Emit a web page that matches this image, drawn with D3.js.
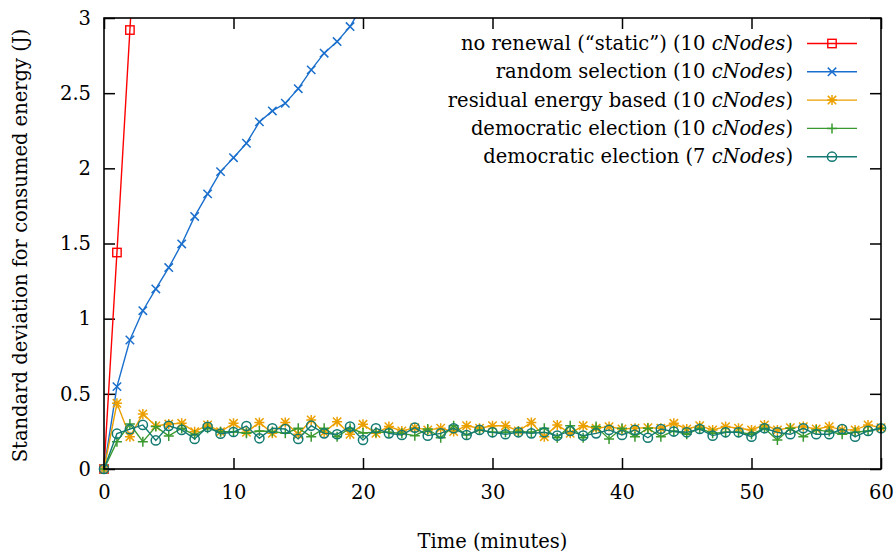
<!DOCTYPE html>
<html><head><meta charset="utf-8">
<script src="https://cdn.jsdelivr.net/npm/d3@7"></script>
<style>body{margin:0;background:#fff}svg{display:block}text{font-family:"DejaVu Serif",serif;fill:#000}</style>
</head><body><svg id="c" width="896" height="558"></svg>
<script>
const minutes = d3.range(0, 61);
const staticVals = [0, 1.44, 2.92, 4.4];
const randomVals = [0, 0.548, 0.858, 1.053, 1.198, 1.34, 1.497, 1.68, 1.83, 1.978, 2.071, 2.167, 2.309, 2.382, 2.433, 2.53, 2.655, 2.766, 2.843, 2.943, 3.09];
const residualVals = [0, 0.437, 0.215, 0.366, 0.286, 0.299, 0.304, 0.248, 0.293, 0.248, 0.304,
  0.244, 0.31, 0.237, 0.31, 0.231, 0.326, 0.244, 0.315, 0.231, 0.297,
  0.237, 0.282, 0.253, 0.275, 0.26, 0.271, 0.249, 0.288, 0.271, 0.288,
  0.288, 0.253, 0.31, 0.215, 0.293, 0.237, 0.288, 0.271, 0.282, 0.266,
  0.271, 0.275, 0.271, 0.304, 0.266, 0.288, 0.26, 0.282, 0.271, 0.26,
  0.293, 0.26, 0.275, 0.282, 0.266, 0.282, 0.26, 0.26, 0.293, 0.275];
const democ10Vals = [0, 0.182, 0.299, 0.182, 0.282, 0.22, 0.271, 0.226, 0.271, 0.248, 0.248,
  0.237, 0.253, 0.249, 0.237, 0.271, 0.215, 0.271, 0.215, 0.271, 0.24,
  0.244, 0.244, 0.237, 0.222, 0.266, 0.208, 0.288, 0.226, 0.26, 0.244,
  0.244, 0.249, 0.244, 0.271, 0.208, 0.288, 0.208, 0.282, 0.2, 0.271,
  0.215, 0.271, 0.215, 0.253, 0.231, 0.271, 0.237, 0.244, 0.244, 0.231,
  0.271, 0.193, 0.271, 0.215, 0.26, 0.249, 0.231, 0.244, 0.253, 0.271];
const democ7Vals = [0, 0.235, 0.265, 0.293, 0.19, 0.287, 0.26, 0.2, 0.28, 0.235, 0.246,
  0.286, 0.204, 0.271, 0.266, 0.2, 0.288, 0.237, 0.231, 0.282, 0.193,
  0.271, 0.237, 0.226, 0.275, 0.222, 0.237, 0.271, 0.226, 0.26, 0.244,
  0.231, 0.244, 0.237, 0.244, 0.222, 0.253, 0.222, 0.237, 0.26, 0.226,
  0.26, 0.208, 0.266, 0.249, 0.244, 0.266, 0.222, 0.244, 0.244, 0.215,
  0.271, 0.244, 0.231, 0.271, 0.231, 0.231, 0.266, 0.215, 0.253, 0.271];
const seriesNames = ["no renewal (\u201cstatic\u201d) (10 ", "random selection (10 ", "residual energy based (10 ", "democratic election (10 ", "democratic election (7 "];
const seriesColors = ["#ff0000", "#1a6fcc", "#eba000", "#3a9a30", "#137a72"];
const seriesMarkers = ["square", "cross", "star", "plus", "circle"];
const xTicks = [0, 10, 20, 30, 40, 50, 60];
const yTicks = [0, 0.5, 1, 1.5, 2, 2.5, 3];
const xTitle = "Time (minutes)";
const yTitle = "Standard deviation for consumed energy (J)";

const allVals = [staticVals, randomVals, residualVals, democ10Vals, democ7Vals];
const svg = d3.select("#c");
const L = 104, R = 881, T = 18, B = 469;
const x = d3.scaleLinear().domain([0, 60]).range([L, R]);
const y = d3.scaleLinear().domain([0, 3]).range([B, T]);
const FS = 19.5;
const FF = "DejaVu Serif";

svg.append("defs").append("clipPath").attr("id", "clip").append("rect")
  .attr("x", L - 6).attr("y", T).attr("width", R - L + 12).attr("height", B - T + 6);

const gx = svg.append("g").attr("transform", `translate(0,${B})`)
  .call(d3.axisBottom(x).tickValues(xTicks).tickSize(-11).tickPadding(16).tickFormat(d3.format("d")));
const gxt = svg.append("g").attr("transform", `translate(0,${T})`)
  .call(d3.axisTop(x).tickValues(xTicks).tickSize(-11).tickFormat(""));
const gy = svg.append("g").attr("transform", `translate(${L},0)`)
  .call(d3.axisLeft(y).tickValues(yTicks).tickSize(-11).tickPadding(13).tickFormat(d => d3.format("")(d)));
const gyr = svg.append("g").attr("transform", `translate(${R},0)`)
  .call(d3.axisRight(y).tickValues(yTicks).tickSize(-11).tickFormat(""));
[gx, gxt, gy, gyr].forEach(g => {
  g.select(".domain").remove();
  g.selectAll(".tick line").attr("stroke", "#000").attr("stroke-width", 1.5);
  g.selectAll(".tick text").attr("font-size", FS).attr("font-family", FF).attr("fill", "#000");
});
gx.selectAll(".tick text").attr("dy", "0.71em");

function marker(sel, type, color, cx, cy) {
  const s = 4.2;
  if (type === "square") sel.append("rect").attr("x", cx - s).attr("y", cy - s).attr("width", 2 * s).attr("height", 2 * s)
    .attr("fill", "none").attr("stroke", color).attr("stroke-width", 1.4);
  else if (type === "circle") sel.append("circle").attr("cx", cx).attr("cy", cy).attr("r", 4.6)
    .attr("fill", "none").attr("stroke", color).attr("stroke-width", 1.5);
  else {
    let p = "";
    if (type === "cross" || type === "star") p += `M${cx - s},${cy - s}L${cx + s},${cy + s}M${cx - s},${cy + s}L${cx + s},${cy - s}`;
    if (type === "plus" || type === "star") p += `M${cx - s - 0.8},${cy}L${cx + s + 0.8},${cy}M${cx},${cy - s - 0.8}L${cx},${cy + s + 0.8}`;
    sel.append("path").attr("d", p).attr("fill", "none").attr("stroke", color).attr("stroke-width", 1.5);
  }
}

const plot = svg.append("g").attr("clip-path", "url(#clip)");
const line = d3.line().x((d, i) => x(minutes[i])).y(d => y(d));
[0, 1, 2, 3, 4].forEach(k => {
  const vals = allVals[k];
  const g = plot.append("g");
  g.append("path").attr("d", line(vals)).attr("fill", "none").attr("stroke", seriesColors[k]).attr("stroke-width", 1.4);
  vals.forEach((v, i) => { if (v <= 3.05) marker(g, seriesMarkers[k], seriesColors[k], x(minutes[i]), y(v)); });
});

svg.append("rect").attr("x", L).attr("y", T).attr("width", R - L).attr("height", B - T)
  .attr("fill", "none").attr("stroke", "#000").attr("stroke-width", 1.6);

const lg = svg.append("g");
seriesNames.forEach((nm, k) => {
  const ly = 43.5 + k * 28.3;
  const t = lg.append("text").attr("x", 793).attr("y", ly).attr("dy", "0.33em").attr("text-anchor", "end").attr("font-size", FS);
  t.append("tspan").text(nm);
  t.append("tspan").attr("font-style", "italic").text("cNodes");
  t.append("tspan").text(")");
  lg.append("line").attr("x1", 807).attr("x2", 857).attr("y1", ly).attr("y2", ly).attr("stroke", seriesColors[k]).attr("stroke-width", 1.4);
  marker(lg, seriesMarkers[k], seriesColors[k], 832, ly);
});

svg.append("text").attr("x", (L + R) / 2).attr("y", 548).attr("text-anchor", "middle").attr("font-size", FS).text(xTitle);
svg.append("text").attr("transform", `translate(27,${(T + B) / 2 + 2}) rotate(-90)`).attr("text-anchor", "middle").attr("font-size", FS).text(yTitle);
</script></body></html>
